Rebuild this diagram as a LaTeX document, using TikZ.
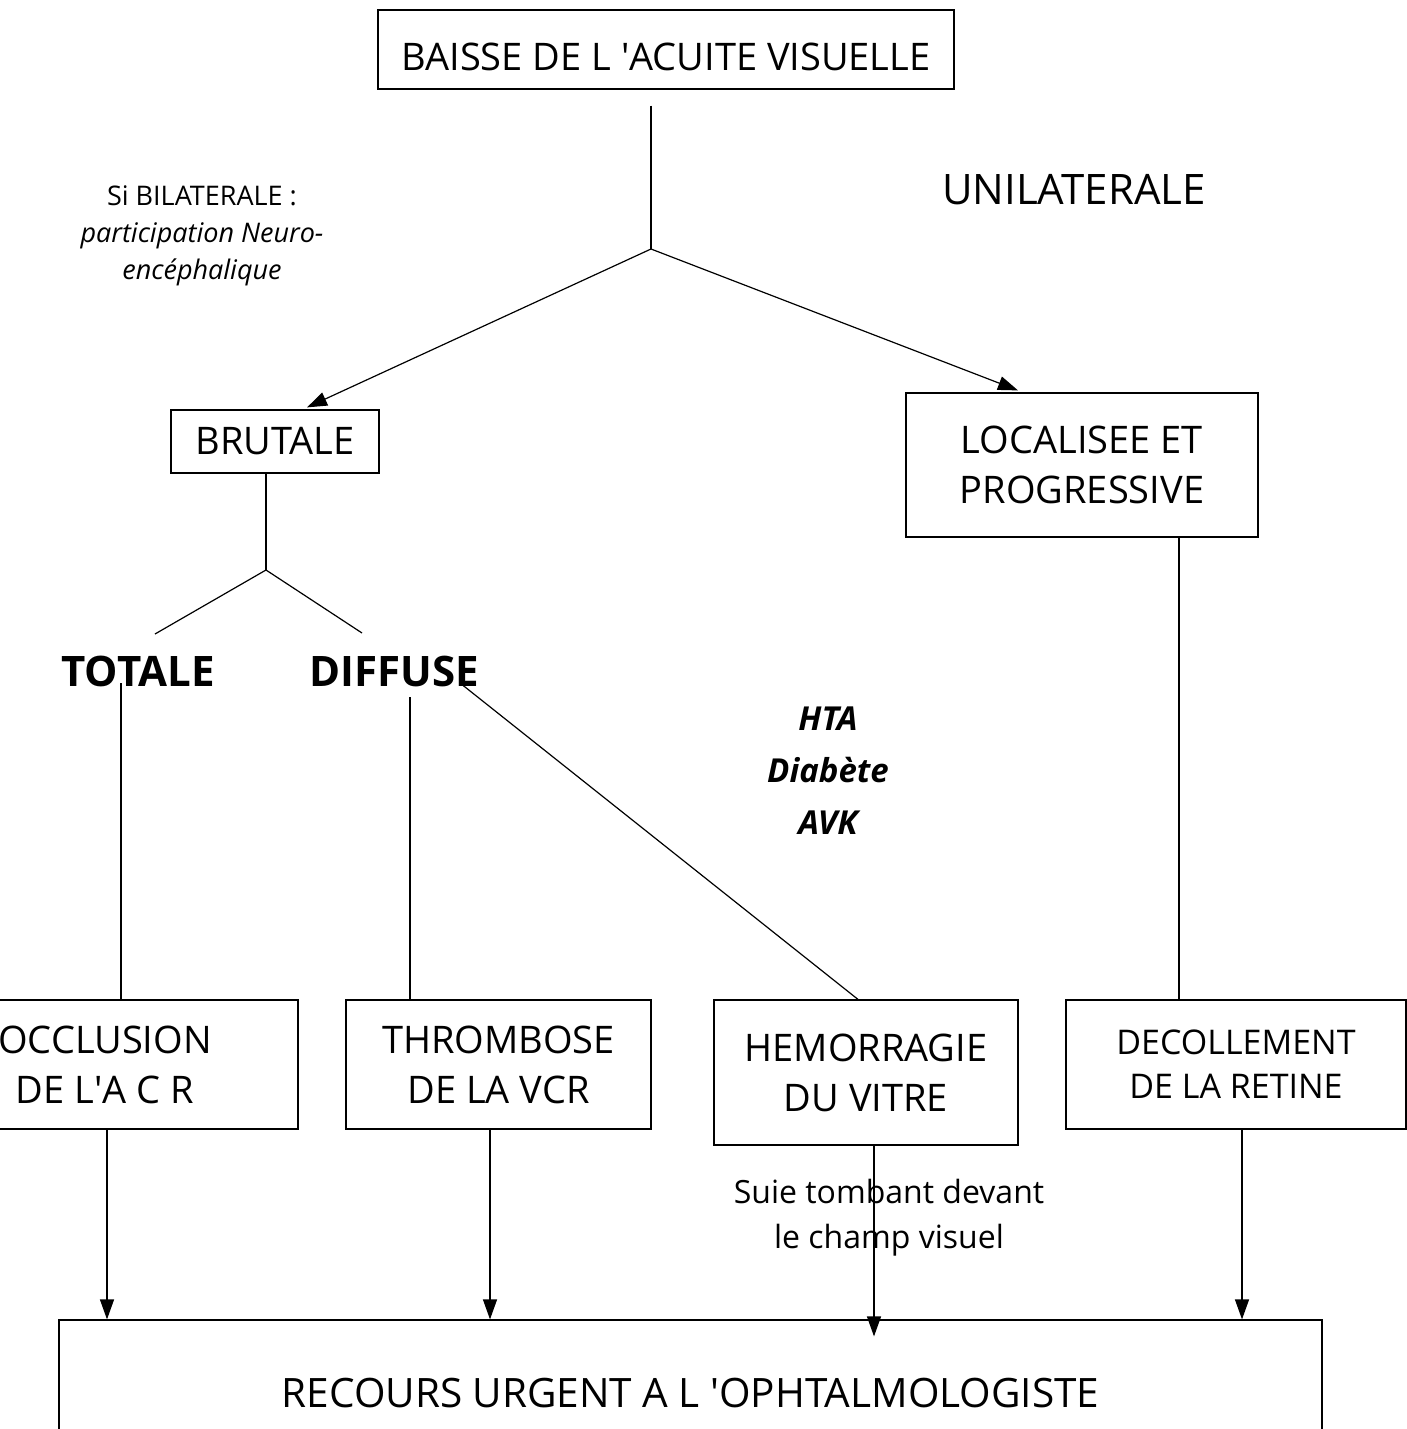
\documentclass[tikz,border=0pt]{standalone}
\usepackage{fontspec}
\setmainfont{Open Sans}
\usetikzlibrary{arrows.meta, positioning}

\tikzset{
  box/.style={draw, line width=1.2pt, align=center, inner sep=0pt},
  label/.style={align=center, inner sep=0pt},
  arr/.style={-{Triangle[length=20pt,width=14pt]}},
}
\newcommand{\bigtxt}{\fontsize{38}{50}\selectfont}
\newcommand{\midtxt}{\fontsize{34}{44}\selectfont}
\newcommand{\smalltxt}{\fontsize{27}{37}\selectfont}
\newcommand{\apos}{\textquotesingle}

\begin{document}
\begin{tikzpicture}[x=1pt, y=-1pt, line width=1.2pt]
\clip (0,0) rectangle (1407,1429);
% top of the tree
\node[box, minimum width=576pt, minimum height=79pt, text height=46pt, text depth=4pt, font=\bigtxt] (baisse) at (666,49.5) {BAISSE DE L \apos ACUITE VISUELLE};
\node[label, font=\fontsize{42}{50}\selectfont] (uni) at (1074,190) {UNILATERALE};
\node[label, font=\smalltxt] (bilat) at (202,236) {Si BILATERALE :\\ \itshape participation Neuro-\\ \itshape encéphalique};
\coordinate (fork1) at (651,249);
\draw ([xshift=-15pt, yshift=-16pt]baisse.south) -- (fork1);

% two branches
\node[box, minimum width=208pt, minimum height=63pt, font=\bigtxt] (brutale) at (275,441.5) {BRUTALE};
\node[box, minimum width=352pt, minimum height=144pt, font=\bigtxt] (local) at (1082,465) {LOCALISEE ET\\PROGRESSIVE};
\draw[arr] (fork1) -- ([xshift=32pt, yshift=2pt]brutale.north);
\draw[arr] (fork1) -- ([xshift=-64pt, yshift=2pt]local.north);

% brutale: totale / diffuse
\coordinate (fork2) at (266,570);
\draw ([xshift=-9pt]brutale.south) -- (fork2);
\node[label, font=\fontsize{42}{50}\selectfont\bfseries] (totale) at (138,671) {TOTALE};
\node[label, font=\fontsize{42}{50}\selectfont\bfseries] (diffuse) at (394,671) {DIFFUSE};
\draw (fork2) -- (155,634);
\draw (fork2) -- (362,633);
\node[label, font=\fontsize{33}{52}\selectfont\bfseries\itshape] (risque) at (828,771) {HTA\\Diabète\\AVK};

% lower boxes
\node[box, minimum width=386pt, minimum height=129pt, font=\bigtxt] (occl) at (105,1064.5) {OCCLUSION\\DE L\apos A C R};
\node[box, minimum width=305pt, minimum height=129pt, font=\bigtxt] (thromb) at (498.5,1064.5) {THROMBOSE\\DE LA VCR};
\node[box, minimum width=304pt, minimum height=145pt, font=\bigtxt] (hemo) at (866,1072.5) {HEMORRAGIE\\DU VITRE};
\node[box, minimum width=340pt, minimum height=129pt, font=\midtxt] (decol) at (1236,1064.5) {DECOLLEMENT\\DE LA RETINE};
\node[label, font=\fontsize{32}{45}\selectfont] (suie) at (889,1218) {Suie tombant devant\\le champ visuel};

\draw ([xshift=-17pt, yshift=-12pt]totale.center) -- ([xshift=16pt]occl.north);
\draw ([xshift=16pt, yshift=-26pt]diffuse.center) -- ([xshift=-88.5pt]thromb.north);
\draw ([xshift=66pt, yshift=-12pt]diffuse.center) -- ([xshift=-8pt]hemo.north);
\draw ([xshift=97pt]local.south) -- ([xshift=-57pt]decol.north);

% urgence
\node[box, minimum width=1263pt, minimum height=146pt, font=\fontsize{40.5}{46}\selectfont] (recours) at (690.5,1393) {RECOURS URGENT A L \apos OPHTALMOLOGISTE};
\draw[arr] ([xshift=2pt]occl.south) -- ([xshift=2pt]occl.south |- recours.north);
\draw[arr] ([xshift=-8.5pt]thromb.south) -- ([xshift=-8.5pt]thromb.south |- recours.north);
\draw[arr] ([xshift=8pt]hemo.south) -- ([xshift=8pt, yshift=-17pt]hemo.south |- recours.north);
\draw[arr] ([xshift=6pt]decol.south) -- ([xshift=6pt]decol.south |- recours.north);
\end{tikzpicture}
\end{document}
